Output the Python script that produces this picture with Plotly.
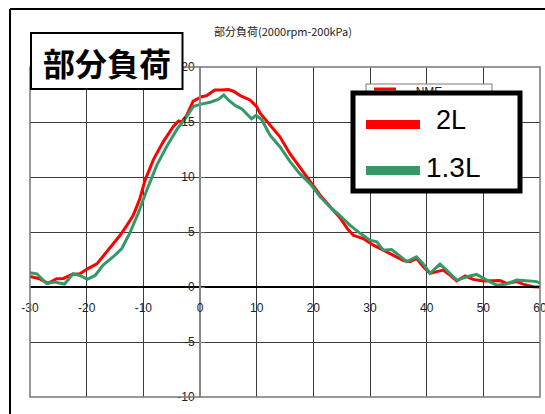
import plotly.graph_objects as go

# ---- data ----
red_x = [-30, -28.5, -26.8, -25.3, -24.1, -22.6, -21.2, -19.7, -18.2, -17.1, -15.6, -14.1,
         -12.9, -11.8, -10.6, -9.7, -8.2, -6.5, -4.7, -3.8, -3.2, -2.35, -1.2, 0.3, 1.2,
         2.6, 3.8, 5.0, 5.9, 7.1, 8.8, 10.0, 10.6, 12.35, 14.1, 15.9, 17.6, 19.4, 21.2,
         22.9, 24.7, 26.0, 27.05, 28.8, 30.6, 32.35, 34.1, 35.9, 37.05, 38.2, 39.4, 40.6,
         41.8, 42.9, 44.1, 45.3, 46.8, 48.2, 50.0, 51.5, 52.9, 54.1, 55.9, 57.1, 58.8, 60]
red_y = [0.95, 0.78, 0.33, 0.75, 0.78, 1.14, 1.2, 1.7, 2.1, 2.8, 3.8, 4.7,
         5.6, 6.5, 8.05, 9.7, 11.6, 13.2, 14.6, 15.1, 15.0, 15.6, 16.9, 17.3, 17.4,
         17.9, 17.9, 17.95, 17.8, 17.4, 17.0, 16.4, 15.8, 14.7, 13.65, 12.1, 10.9, 9.7, 8.35,
         7.35, 6.3, 5.3, 4.7, 4.4, 3.8, 3.35, 2.9, 2.4, 2.3, 2.6, 1.84, 1.24,
         1.4, 1.54, 1.08, 0.56, 1.0, 0.69, 0.54, 0.56, 0.6, 0.33, 0.49, 0.24, 0.02, 0.0]

green_x = [-30, -28.8, -27.1, -25.7, -23.9, -22.4, -21.2, -19.9, -18.5, -17.1, -15.3, -13.8,
           -12.4, -10.9, -9.4, -7.6, -5.9, -4.1, -2.6, -1.2, 0, 1.8, 3.2, 4.2, 5.0, 6.2,
           7.35, 9.1, 9.9, 10.9, 12.35, 14.1, 15.9, 17.6, 19.4, 21.2, 22.9, 24.7, 26.5,
           28.2, 30.0, 31.2, 32.35, 33.8, 34.7, 36.5, 38.2, 39.4, 40.6, 42.35, 43.5, 45.3,
           47.1, 48.8, 50.6, 52.35, 54.1, 55.9, 57.6, 59.4, 60]
green_y = [1.3, 1.2, 0.33, 0.45, 0.27, 1.2, 1.05, 0.69, 1.05, 2.0, 2.75, 3.5,
           4.9, 6.7, 8.8, 11.1, 12.75, 14.3, 15.3, 16.4, 16.6, 16.8, 17.05, 17.45, 17.0, 16.5,
           16.2, 15.3, 15.6, 15.2, 13.8, 12.75, 11.4, 10.3, 9.4, 8.2, 7.3, 6.5, 5.6,
           4.9, 4.26, 4.1, 3.35, 3.4, 3.05, 2.3, 2.75, 2.1, 1.24, 2.08, 1.54, 0.63,
           0.93, 1.14, 0.63, 0.17, 0.27, 0.63, 0.56, 0.49, 0.35]

x_ticks = [-30, -20, -10, 0, 10, 20, 30, 40, 50, 60]
y_ticks = [-10, -5, 0, 5, 10, 15, 20]

series_names = ["2L", "1.3L"]
title_text = "部分負荷(2000rpm-200kPa)"
box_text = "部分負荷"
hidden_legend_text = "NME"

RED = "#FF0000"
GREEN = "#339966"

W, H = 545, 414
ML, MR, MT, MB = 30, 5, 67, 17
PW, PH = W - ML - MR, H - MT - MB


def px(x):
    return (x - ML) / PW


def py(y):
    return (H - MB - y) / PH


NARROW = "Liberation Sans Narrow, Arial Narrow, Liberation Sans, Arial, sans-serif"

fig = go.Figure()
fig.add_trace(go.Scatter(x=red_x, y=red_y, mode="lines", name=series_names[0],
                         line=dict(color=RED, width=3)))
fig.add_trace(go.Scatter(x=green_x, y=green_y, mode="lines", name=series_names[1],
                         line=dict(color=GREEN, width=3)))

fig.update_layout(
    width=W, height=H, autosize=False,
    margin=dict(l=ML, r=MR, t=MT, b=MB, autoexpand=False),
    paper_bgcolor="white", plot_bgcolor="white",
    showlegend=False,
    font=dict(family=NARROW, size=11, color="#222"),
    xaxis=dict(range=[-30, 60], tickvals=x_ticks, ticktext=[str(v) for v in x_ticks],
               showgrid=True, gridcolor="#3c3c3c", gridwidth=1, zeroline=False,
               anchor="free", position=1 / 3, showline=True, linecolor="black", linewidth=1.5,
               ticks="", ticklabelstandoff=10, ticklabeloverflow="allow", automargin=False,
               tickfont=dict(family=NARROW, size=12, color="#222")),
    yaxis=dict(range=[-10, 20], tickvals=y_ticks, ticktext=[str(v) for v in y_ticks],
               showgrid=True, gridcolor="#3c3c3c", gridwidth=1, zeroline=False,
               anchor="free", position=1 / 3, showline=True, linecolor="#888", linewidth=2,
               ticks="inside", ticklen=4, tickcolor="#666", ticklabelstandoff=2,
               ticklabeloverflow="allow", automargin=False,
               tickfont=dict(family=NARROW, size=12, color="#222")),
)

shapes = []
# plot area border
shapes.append(dict(type="rect", xref="paper", yref="paper", x0=0, x1=1, y0=0, y1=1,
                   line=dict(color="#777", width=1.5), layer="above"))
# outer chart frame (left and top)
shapes.append(dict(type="line", xref="paper", yref="paper", x0=px(10), x1=px(10),
                   y0=py(9), y1=py(420), line=dict(color="black", width=2), layer="above"))
shapes.append(dict(type="line", xref="paper", yref="paper", x0=px(10), x1=px(560),
                   y0=py(9), y1=py(9), line=dict(color="black", width=2), layer="above"))
# hidden legend behind
shapes.append(dict(type="rect", xref="paper", yref="paper", x0=px(366), x1=px(492),
                   y0=py(84), y1=py(180), fillcolor="white", line=dict(color="#777", width=1),
                   layer="above",
                   label=dict(text=hidden_legend_text, textposition="top center",
                              font=dict(family="Liberation Sans, Arial", size=12, color="#222"),
                              padding=0)))
shapes.append(dict(type="line", xref="paper", yref="paper", x0=px(374), x1=px(396),
                   y0=py(89), y1=py(89), line=dict(color=RED, width=3), layer="above"))
# big legend box
shapes.append(dict(type="rect", xref="paper", yref="paper", x0=px(353), x1=px(520),
                   y0=py(93), y1=py(191), fillcolor="white", line=dict(color="black", width=5),
                   layer="above"))
shapes.append(dict(type="line", xref="paper", yref="paper", x0=px(366), x1=px(420),
                   y0=py(124.5), y1=py(124.5), line=dict(color=RED, width=9), layer="above"))
shapes.append(dict(type="line", xref="paper", yref="paper", x0=px(366), x1=px(420),
                   y0=py(170.5), y1=py(170.5), line=dict(color=GREEN, width=9), layer="above"))
# title box
shapes.append(dict(type="rect", xref="paper", yref="paper", x0=px(31), x1=px(182.5),
                   y0=py(33), y1=py(89), fillcolor="white", line=dict(color="black", width=2),
                   layer="above"))
fig.update_layout(shapes=shapes)

anns = [
    dict(text=title_text, xref="paper", yref="paper", x=px(283), y=py(31),
         xanchor="center", yanchor="middle", showarrow=False,
         font=dict(family="Liberation Sans Narrow, Noto Sans CJK JP, sans-serif", size=11, color="#222")),
    dict(text="<b>" + box_text + "</b>", xref="paper", yref="paper", x=px(107), y=py(62),
         xanchor="center", yanchor="middle", showarrow=False,
         font=dict(family="Noto Sans CJK JP, sans-serif", size=32, color="black")),
    dict(text=series_names[0], xref="paper", yref="paper", x=px(434), y=py(120),
         xanchor="left", yanchor="middle", showarrow=False,
         font=dict(family="Liberation Sans, Arial, sans-serif", size=27, color="black")),
    dict(text=series_names[1], xref="paper", yref="paper", x=px(424), y=py(167),
         xanchor="left", yanchor="middle", showarrow=False,
         font=dict(family="Liberation Sans, Arial, sans-serif", size=28, color="black")),
]
fig.update_layout(annotations=anns)

fig.write_html("out.html", config={"displayModeBar": False, "responsive": False},
               post_script="document.documentElement.style.overflow='hidden';"
                           "document.body.style.overflow='hidden';"
                           "document.body.style.margin='0';document.body.style.padding='0';")
